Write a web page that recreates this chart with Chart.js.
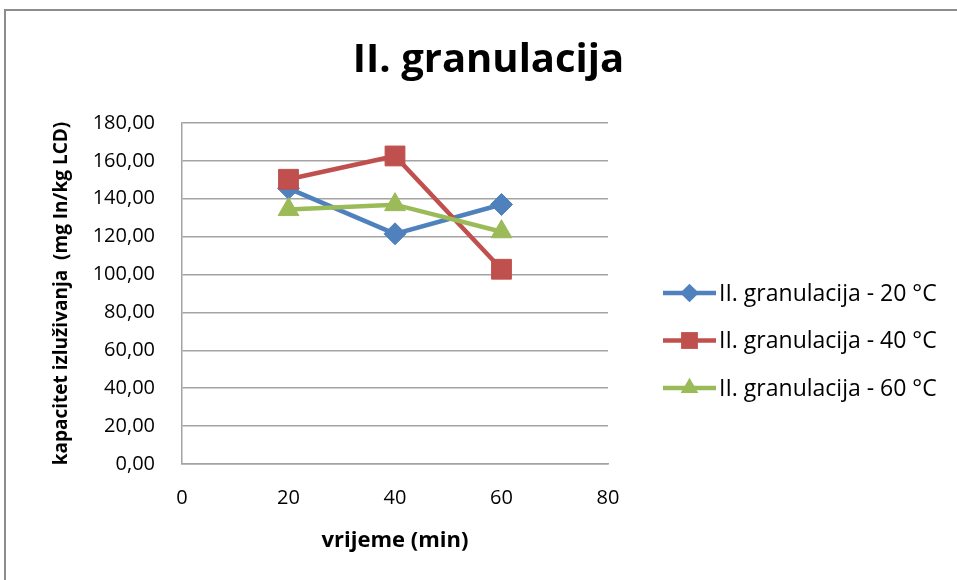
<!DOCTYPE html>
<html>
<head>
<meta charset="utf-8">
<script src="https://cdn.jsdelivr.net/npm/chart.js@4.4.1/dist/chart.umd.min.js"></script>
<style>
  html, body { margin: 0; padding: 0; background: #fff; }
  #wrap { position: relative; width: 957px; height: 580px; }
</style>
</head>
<body>
<div id="wrap"><canvas id="chartGranulacija" width="957" height="580"></canvas></div>
<script>
// data
const times = [20, 40, 60];
const seriesNames = ["II. granulacija - 20 °C", "II. granulacija - 40 °C", "II. granulacija - 60 °C"];
const temp20 = [145.5, 121.5, 137.0];
const temp40 = [150.3, 162.6, 102.8];
const temp60 = [134.3, 136.9, 122.6];
const yTicks = [0, 20, 40, 60, 80, 100, 120, 140, 160, 180];
const xTicks = [0, 20, 40, 60, 80];

const colors = ["#4F81BD", "#C0504D", "#9BBB59"];
const markers = ["rectRot", "rect", "triangle"];
const markerSizes = [11, 14, 12];
const GRID = "#a3a3a3";
const FONT = "'Open Sans', sans-serif";

Chart.defaults.font.family = FONT;
Chart.defaults.color = "#000";

function drawMarker(ctx, style, x, y, r, color) {
  ctx.save();
  ctx.fillStyle = color;
  ctx.beginPath();
  if (style === "rectRot") {
    ctx.moveTo(x, y - r);
    ctx.lineTo(x + r, y);
    ctx.lineTo(x, y + r);
    ctx.lineTo(x - r, y);
  } else if (style === "rect") {
    const s = r * Math.SQRT1_2;
    ctx.rect(x - s, y - s, 2 * s, 2 * s);
  } else {
    ctx.moveTo(x, y - r);
    ctx.lineTo(x + r * 0.866, y + r / 2);
    ctx.lineTo(x - r * 0.866, y + r / 2);
  }
  ctx.closePath();
  ctx.fill();
  ctx.restore();
}

// outer frame of the chart box
const frame = {
  id: "frame",
  beforeDraw(chart) {
    const ctx = chart.ctx;
    ctx.save();
    ctx.fillStyle = "#fff";
    ctx.fillRect(0, 0, chart.width, chart.height);
    ctx.strokeStyle = "#8c8c8c";
    ctx.lineWidth = 2;
    ctx.strokeRect(5, 10, 1200, 1200);
    ctx.restore();
  }
};

// legend with line + marker like the original
const lineLegend = {
  id: "lineLegend",
  afterDraw(chart) {
    const ctx = chart.ctx;
    chart.data.datasets.forEach((ds, i) => {
      const y = 293 + i * 47.5;
      ctx.save();
      ctx.strokeStyle = ds.borderColor;
      ctx.lineWidth = 4.5;
      ctx.beginPath();
      ctx.moveTo(663, y);
      ctx.lineTo(716, y);
      ctx.stroke();
      ctx.restore();
      drawMarker(ctx, ds.pointStyle, 689.5, y, ds.pointRadius * 0.85, ds.backgroundColor);
      ctx.save();
      ctx.fillStyle = "#000";
      ctx.font = "23px " + FONT;
      ctx.textBaseline = "middle";
      ctx.textAlign = "left";
      ctx.fillText(ds.label, 719, y + 1);
      ctx.restore();
    });
  }
};

const seriesData = [temp20, temp40, temp60];

const chart = new Chart(document.getElementById("chartGranulacija"), {
  type: "line",
  data: {
    datasets: seriesData.map((vals, i) => ({
      label: seriesNames[i],
      data: times.map((t, j) => ({ x: t, y: vals[j] })),
      borderColor: colors[i],
      backgroundColor: colors[i],
      pointBackgroundColor: colors[i],
      pointBorderColor: colors[i],
      pointBorderWidth: 1,
      borderWidth: 4.5,
      pointStyle: markers[i],
      pointRadius: markerSizes[i],
      tension: 0,
      fill: false,
      order: 3 - i
    }))
  },
  options: {
    responsive: false,
    animation: false,
    layout: { padding: { left: 20, right: 0, top: 0, bottom: 0 } },
    plugins: {
      legend: { display: false },
      tooltip: { enabled: false },
      title: {
        display: true,
        text: "II. granulacija",
        color: "#000",
        font: { size: 40, weight: "bold", family: FONT },
        padding: { top: 37, bottom: 38 }
      }
    },
    scales: {
      x: {
        type: "linear",
        min: 0,
        max: 80,
        afterBuildTicks: s => { s.ticks = xTicks.map(v => ({ value: v })); },
        afterFit: s => { s.height = 116; },
        grid: { display: false, drawTicks: false },
        border: { display: true, color: GRID, width: 1.5 },
        ticks: { color: "#000", font: { size: 20 }, padding: 22 },
        title: {
          display: true,
          text: "vrijeme (min)",
          color: "#000",
          font: { size: 22, weight: "bold" },
          padding: { top: 0, bottom: 26 }
        }
      },
      y: {
        min: 0,
        max: 180,
        afterBuildTicks: s => { s.ticks = yTicks.map(v => ({ value: v })); },
        afterFit: s => { s.width = 162; },
        grid: { color: GRID, lineWidth: 1.5, drawTicks: false },
        border: { display: true, color: GRID, width: 1.5 },
        ticks: {
          color: "#000",
          font: { size: 20 },
          padding: 27,
          callback: v => v.toFixed(2).replace(".", ",")
        },
        title: {
          display: true,
          text: "kapacitet izluživanja  (mg In/kg LCD)",
          color: "#000",
          font: { size: 19, weight: "bold" },
          padding: { top: 30, bottom: 0 }
        }
      },
      // empty right-hand box that keeps room for the legend
      legendSpace: {
        type: "linear",
        position: "right",
        display: true,
        afterFit: s => { s.width = 349; },
        grid: { display: false, drawTicks: false },
        border: { display: false },
        ticks: { display: false },
        title: { display: false }
      }
    }
  },
  plugins: [frame, lineLegend]
});
</script>
</body>
</html>
